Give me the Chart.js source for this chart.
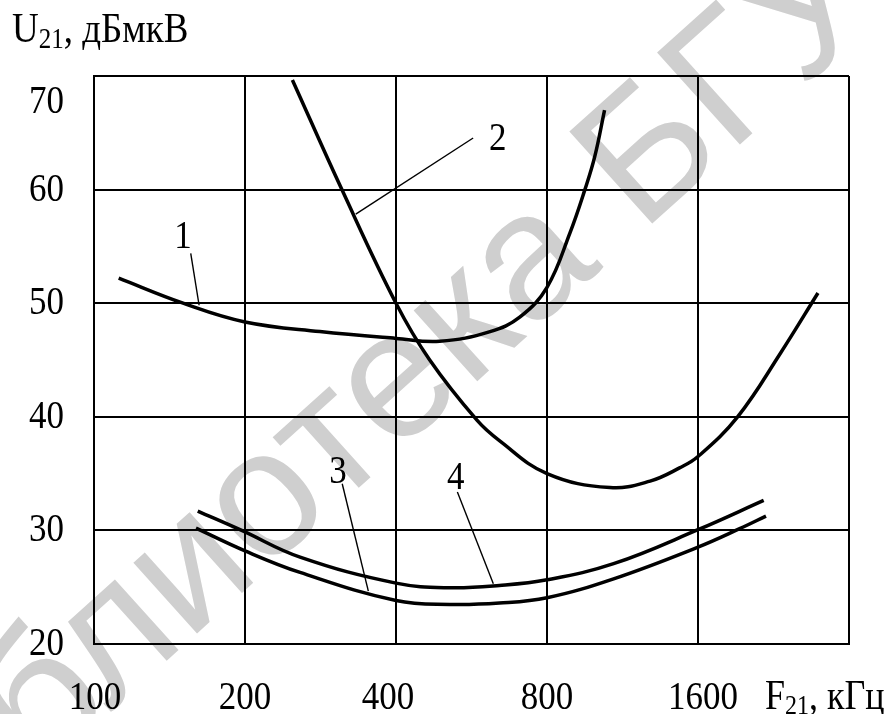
<!DOCTYPE html>
<html>
<head>
<meta charset="utf-8">
<script src="https://cdn.jsdelivr.net/npm/chart.js@4"></script>
<style>
  html, body { margin: 0; padding: 0; background: #fff; }
  canvas { display: block; }
</style>
</head>
<body>
<canvas id="chart" width="891" height="714"></canvas>
<script>
// axis ticks
const xTicks = [100, 200, 400, 800, 1600, 3200]
const xTickLabels = ['100', '200', '400', '800', '1600', '']
const yTicks = [20, 30, 40, 50, 60, 70]

// curve 1
const curve1X = [112, 150.5, 200, 282, 400, 489, 616, 707, 800, 889, 952, 996, 1042]
const curve1Y = [52.2, 50.0, 48.35, 47.5, 46.9, 46.65, 47.5, 48.8, 51.4, 56.2, 60.0, 62.9, 67.0]

// curve 2
const curve2X = [248.6, 312, 400, 467, 580, 643, 800, 1068, 1284, 1470, 1600, 1919, 2336, 2775]
const curve2Y = [69.65, 60.0, 50.0, 45.0, 39.7, 37.9, 35.0, 33.77, 34.34, 35.5, 36.5, 40.0, 45.6, 50.9]

// curve 3 (lower)
const curve3X = [159.7, 200, 257.5, 400, 512, 643, 800, 1086, 1600, 1937, 2186]
const curve3Y = [30.2, 28.2, 26.3, 23.83, 23.48, 23.6, 24.07, 25.74, 28.53, 30.15, 31.26]

// curve 4 (upper)
const curve4X = [161, 197, 257.5, 400, 512, 643, 800, 1086, 1600, 2163]
const curve4Y = [31.7, 30.0, 27.65, 25.36, 24.95, 25.15, 25.65, 27.07, 30.06, 32.64]

// curve number labels and their leader lines
const curveNames = ['1', '2', '3', '4']
const nameX = [150.5, 638, 306.6, 526]
const nameY = [55.8, 64.45, 35.11, 34.58]
const leaderX = [[155.9, 162], [570, 332.5], [312.5, 352.3], [530.2, 625.3]]
const leaderY = [[54.38, 49.82], [64.54, 57.84], [34.11, 24.65], [33.37, 25.3]]

const toPoints = (xs, ys) => xs.map((x, i) => ({ x: x, y: ys[i] }))

const curveStyle = {
    borderColor: '#000',
    borderWidth: 3.5,
    pointRadius: 0,
    tension: 0.4,
    fill: false
}

const datasets = [
    { data: toPoints(curve1X, curve1Y), ...curveStyle },
    { data: toPoints(curve2X, curve2Y), ...curveStyle },
    { data: toPoints(curve3X, curve3Y), ...curveStyle },
    { data: toPoints(curve4X, curve4Y), ...curveStyle }
]
leaderX.forEach((lx, i) => {
    datasets.push({
        data: toPoints(lx, leaderY[i]),
        borderColor: '#000',
        borderWidth: 1.4,
        pointRadius: 0,
        tension: 0,
        fill: false
    })
})

const SERIF = '"Liberation Serif", "Times New Roman", serif'
const STRETCH = 1.16

function drawText(ctx, text, x, y, size, align) {
    ctx.save()
    ctx.font = size + 'px ' + SERIF
    ctx.textAlign = align || 'left'
    ctx.textBaseline = 'alphabetic'
    ctx.translate(x, y)
    ctx.scale(1, STRETCH)
    ctx.fillText(text, 0, 0)
    ctx.restore()
}

function textWidth(ctx, text, size) {
    ctx.save()
    ctx.font = size + 'px ' + SERIF
    const w = ctx.measureText(text).width
    ctx.restore()
    return w
}

const watermark = {
    id: 'watermark',
    beforeDraw(chart) {
        const ctx = chart.ctx
        ctx.save()
        ctx.fillStyle = '#cfcfcf'
        ctx.font = '180px "Liberation Sans", Arial, sans-serif'
        ctx.textBaseline = 'alphabetic'
        ctx.translate(604, 267)
        ctx.rotate(-42 * Math.PI / 180)
        ctx.textAlign = 'right'
        ctx.fillText('Библиотека', 0, 0)
        ctx.textAlign = 'left'
        ctx.fillText(' БГУИР', 0, 0)
        ctx.restore()
    }
}

const labels = {
    id: 'labels',
    afterDraw(chart) {
        const ctx = chart.ctx
        const xs = chart.scales.x
        const ys = chart.scales.y
        ctx.fillStyle = '#000'

        // y tick labels
        yTicks.forEach(v => {
            let py = ys.getPixelForValue(v) + 11
            if (v === 70) py += 26
            drawText(ctx, String(v), 64, py, 35, 'right')
        })

        // x tick labels
        xTicks.forEach((v, i) => {
            if (!xTickLabels[i]) return
            let px = xs.getPixelForValue(v)
            if (v === 100) px += 1
            if (v === 400) px -= 8
            if (v === 1600) px += 5
            drawText(ctx, xTickLabels[i], px, 709, 35, 'center')
        })

        // axis titles
        let x = 12
        drawText(ctx, 'U', x, 42, 37)
        x += textWidth(ctx, 'U', 37)
        drawText(ctx, '21', x, 48, 25)
        x += textWidth(ctx, '21', 25)
        drawText(ctx, ', дБмкВ', x, 42, 37)

        x = 765
        drawText(ctx, 'F', x, 709, 36)
        x += textWidth(ctx, 'F', 36)
        drawText(ctx, '21', x, 714, 24)
        x += textWidth(ctx, '21', 24)
        drawText(ctx, ', кГц', x, 709, 36)

        // curve numbers
        curveNames.forEach((name, i) => {
            const px = xs.getPixelForValue(nameX[i])
            const py = ys.getPixelForValue(nameY[i])
            drawText(ctx, name, px, py + 11, 35, 'center')
        })
    }
}

const gridStyle = {
    color: '#000',
    lineWidth: 2,
    drawTicks: false
}

new Chart(document.getElementById('chart').getContext('2d'), {
    type: 'line',
    data: { datasets: datasets },
    options: {
        responsive: false,
        animation: false,
        devicePixelRatio: 1,
        layout: { padding: { left: 94, right: 42, top: 76, bottom: 70 } },
        plugins: {
            legend: { display: false },
            tooltip: { enabled: false }
        },
        scales: {
            x: {
                type: 'logarithmic',
                min: 100,
                max: 3200,
                afterBuildTicks: scale => {
                    scale.ticks = xTicks.map(v => ({ value: v }))
                },
                ticks: { display: false },
                grid: gridStyle,
                border: { display: true, color: '#000', width: 2 }
            },
            y: {
                type: 'linear',
                min: 20,
                max: 70,
                afterBuildTicks: scale => {
                    scale.ticks = yTicks.map(v => ({ value: v }))
                },
                ticks: { display: false },
                grid: gridStyle,
                border: { display: true, color: '#000', width: 2 }
            }
        }
    },
    plugins: [watermark, labels]
})
</script>
</body>
</html>
